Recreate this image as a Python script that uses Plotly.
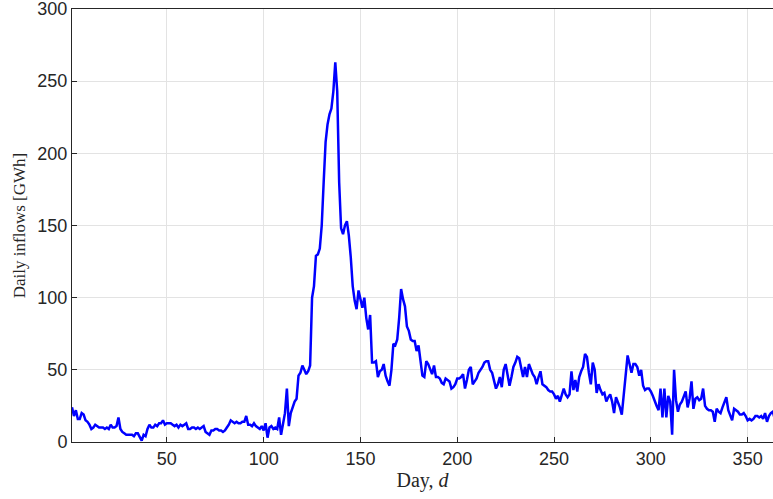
import plotly.graph_objects as go

days = list(range(1, 366))

inflows = [
    24, 18, 22, 16, 16, 20, 19, 15, 14, 12, 9, 10, 12, 11, 10, 10, 10, 9, 10, 9,
    12, 10, 10, 11, 17, 9, 7, 6, 5, 5, 5, 5, 4, 6, 6, 3, 1, 5, 4, 9,
    12, 10, 10, 12, 11, 13, 13, 15, 12, 13, 13, 13, 12, 11, 12, 10, 12, 11, 12, 13,
    9, 9, 10, 10, 9, 10, 9, 10, 11, 7, 6, 5, 8, 8, 9, 9, 8, 8, 7, 8,
    10, 12, 15, 14, 13, 14, 13, 13, 14, 14, 18, 12, 12, 11, 13, 11, 10, 9, 11, 8,
    13, 3, 10, 11, 9, 10, 9, 17, 5, 13, 20, 37, 11, 20, 25, 28, 30, 46, 48, 53,
    50, 47, 49, 53, 100, 108, 129, 130, 134, 150, 180, 208, 220, 227, 231, 243, 263, 243, 180, 148,
    144, 150, 153, 143, 128, 108, 98, 92, 105, 98, 93, 100, 86, 78, 88, 55, 55, 56, 45, 49,
    50, 54, 46, 42, 39, 50, 68, 67, 71, 86, 106, 99, 94, 80, 77, 71, 70, 70, 63, 67,
    56, 46, 45, 56, 54, 50, 47, 53, 45, 45, 44, 41, 40, 44, 43, 42, 37, 38, 40, 44,
    44, 45, 47, 37, 43, 50, 52, 40, 42, 44, 48, 50, 52, 55, 56, 56, 50, 48, 42, 37,
    40, 45, 38, 50, 54, 45, 39, 45, 52, 55, 59, 58, 52, 45, 52, 45, 54, 50, 47, 45,
    40, 45, 49, 40, 39, 38, 36, 35, 35, 33, 30, 32, 28, 32, 37, 33, 31, 33, 49, 36,
    43, 35, 45, 49, 52, 61, 59, 48, 40, 55, 50, 34, 40, 36, 33, 34, 28, 31, 33, 28,
    20, 31, 28, 24, 19, 33, 42, 60, 54, 48, 54, 54, 52, 46, 50, 39, 36, 37, 37, 35,
    32, 28, 25, 22, 37, 17, 37, 17, 32, 28, 5, 50, 29, 21, 26, 28, 32, 35, 24, 30,
    42, 23, 30, 31, 29, 30, 37, 25, 23, 22, 22, 21, 14, 23, 21, 20, 24, 27, 31, 22,
    18, 15, 23, 22, 21, 19, 19, 20, 18, 15, 16, 15, 16, 18, 18, 17, 18, 16, 20, 14,
    18, 20, 21, 16, 21,
]

x_ticks = [50, 100, 150, 200, 250, 300, 350]
y_ticks = [0, 50, 100, 150, 200, 250, 300]

fig = go.Figure()
fig.add_trace(go.Scatter(
    x=days, y=inflows, mode="lines",
    line=dict(color="#0000ff", width=2.5),
    showlegend=False, hoverinfo="skip",
))

axis_common = dict(
    showgrid=True, gridcolor="#e3e3e3", gridwidth=1,
    showline=True, linecolor="#262626", linewidth=1,
    ticks="inside", ticklen=5, tickcolor="#262626",
    tickfont=dict(family="Liberation Sans, Arial, sans-serif", size=18, color="#262626"),
    zeroline=False, automargin=False, ticklabeloverflow="allow",
)

fig.update_xaxes(
    range=[1, 363.1], tickvals=x_ticks, mirror=True,
    title=dict(text="Day, <i>d</i>", font=dict(family="Liberation Serif, serif", size=20, color="#262626"), standoff=4),
    **axis_common,
)
fig.update_yaxes(
    range=[0, 300], tickvals=y_ticks, mirror=False,
    title=dict(text="Daily inflows [GWh]", font=dict(family="Liberation Serif, serif", size=17, color="#262626"), standoff=7),
    **axis_common,
)

fig.update_layout(
    width=773, height=499,
    margin=dict(l=72, r=0, t=9, b=57),
    paper_bgcolor="white", plot_bgcolor="white",
)

fig.write_html(
    "out.html",
    config={"displayModeBar": False},
    post_script="document.body.style.margin='0';document.body.style.overflow='hidden';",
)
